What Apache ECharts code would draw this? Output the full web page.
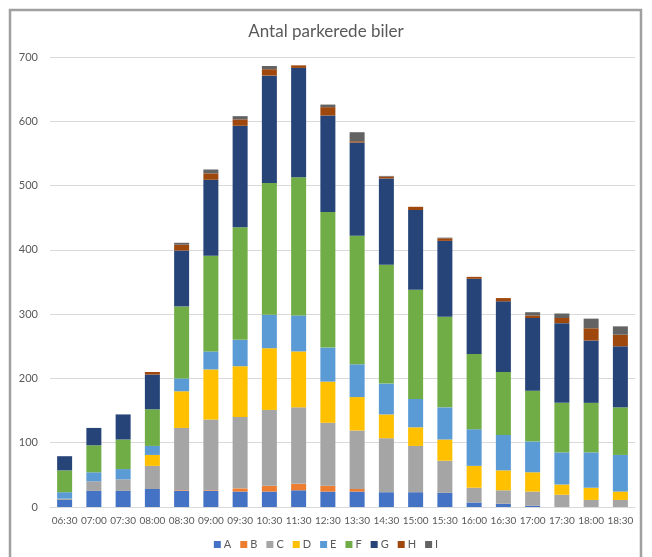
<!DOCTYPE html>
<html>
<head>
<meta charset="utf-8">
<script src="https://cdn.jsdelivr.net/npm/echarts@6/dist/echarts.min.js"></script>
<style>
  html, body { margin: 0; padding: 0; background: #fff; }
  #chart { width: 652px; height: 557px; }
</style>
</head>
<body>
<div id="chart"></div>
<script>
// Parked cars per time slot, split by parking area A–I
const categories = ['06:30','07:00','07:30','08:00','08:30','09:00','09:30','10:30','11:30','12:30',
                    '13:30','14:30','15:00','15:30','16:00','16:30','17:00','17:30','18:00','18:30'];
const seriesA = [11,25,25,28,25,25,24,24,26,24,24,23,23,22,7,5,2,0,0,0];
const seriesB = [0,0,0,0,1,1,5,9,10,9,4,0,0,0,0,0,0,0,0,0];
const seriesC = [2,15,18,36,97,110,111,118,119,98,91,84,72,50,23,21,22,19,11,11];
const seriesD = [0,0,0,17,57,78,79,96,87,64,52,37,29,33,34,31,30,16,19,13];
const seriesE = [10,14,16,14,20,28,41,52,56,53,51,48,44,50,57,55,48,50,55,57];
const seriesF = [34,42,46,57,112,149,175,205,215,211,200,185,170,141,117,98,79,77,77,74];
const seriesG = [22,27,39,54,87,118,158,167,170,150,145,134,124,118,117,110,113,124,97,95];
const seriesH = [0,0,0,4,9,10,10,10,4,13,2,3,5,4,3,5,4,8,19,18];
const seriesI = [0,0,0,0,3,6,5,5,0,4,14,1,0,1,0,0,5,7,15,13];
const yTicks = { min: 0, max: 700, interval: 100 };

const groups = [
  { name: 'A', data: seriesA, color: '#4472C4' },
  { name: 'B', data: seriesB, color: '#ED7D31' },
  { name: 'C', data: seriesC, color: '#A5A5A5' },
  { name: 'D', data: seriesD, color: '#FFC000' },
  { name: 'E', data: seriesE, color: '#5B9BD5' },
  { name: 'F', data: seriesF, color: '#70AD47' },
  { name: 'G', data: seriesG, color: '#264478' },
  { name: 'H', data: seriesH, color: '#9E480E' },
  { name: 'I', data: seriesI, color: '#636363' }
];

const font = 'Lato, "Open Sans", sans-serif';
const chart = echarts.init(document.getElementById('chart'), null, { renderer: 'canvas' });

chart.setOption({
  animation: false,
  backgroundColor: '#ffffff',
  textStyle: { fontFamily: font },
  title: {
    text: 'Antal parkerede biler',
    left: 'center',
    top: 18,
    textStyle: { fontSize: 17, fontWeight: 'normal', color: '#595959', fontFamily: font }
  },
  graphic: [{
    type: 'rect',
    shape: { x: 10, y: 10, width: 631, height: 570 },
    style: { fill: 'none', stroke: '#a0a0a0', lineWidth: 2.5 },
    silent: true,
    z: 100
  }],
  legend: {
    bottom: 2,
    left: 'center',
    itemWidth: 7,
    itemHeight: 7,
    itemGap: 9,
    icon: 'rect',
    textStyle: { fontSize: 11, color: '#595959', fontFamily: font, padding: [0, 0, 0, -2] },
    data: groups.map(g => g.name)
  },
  grid: { left: 50, right: 17, top: 57, bottom: 50, containLabel: false },
  xAxis: {
    type: 'category',
    data: categories,
    axisLine: { lineStyle: { color: '#d9d9d9', width: 1 } },
    axisTick: { show: false },
    axisLabel: { color: '#595959', fontSize: 10, margin: 9, interval: 0, fontFamily: font }
  },
  yAxis: {
    type: 'value',
    min: yTicks.min,
    max: yTicks.max,
    interval: yTicks.interval,
    axisLine: { show: false },
    axisTick: { show: false },
    axisLabel: { color: '#595959', fontSize: 11, margin: 12, fontFamily: font },
    splitLine: { lineStyle: { color: '#d9d9d9', width: 1 } }
  },
  series: groups.map(g => ({
    name: g.name,
    type: 'bar',
    stack: 'total',
    barWidth: 15,
    data: g.data,
    itemStyle: { color: g.color }
  }))
});
</script>
</body>
</html>
